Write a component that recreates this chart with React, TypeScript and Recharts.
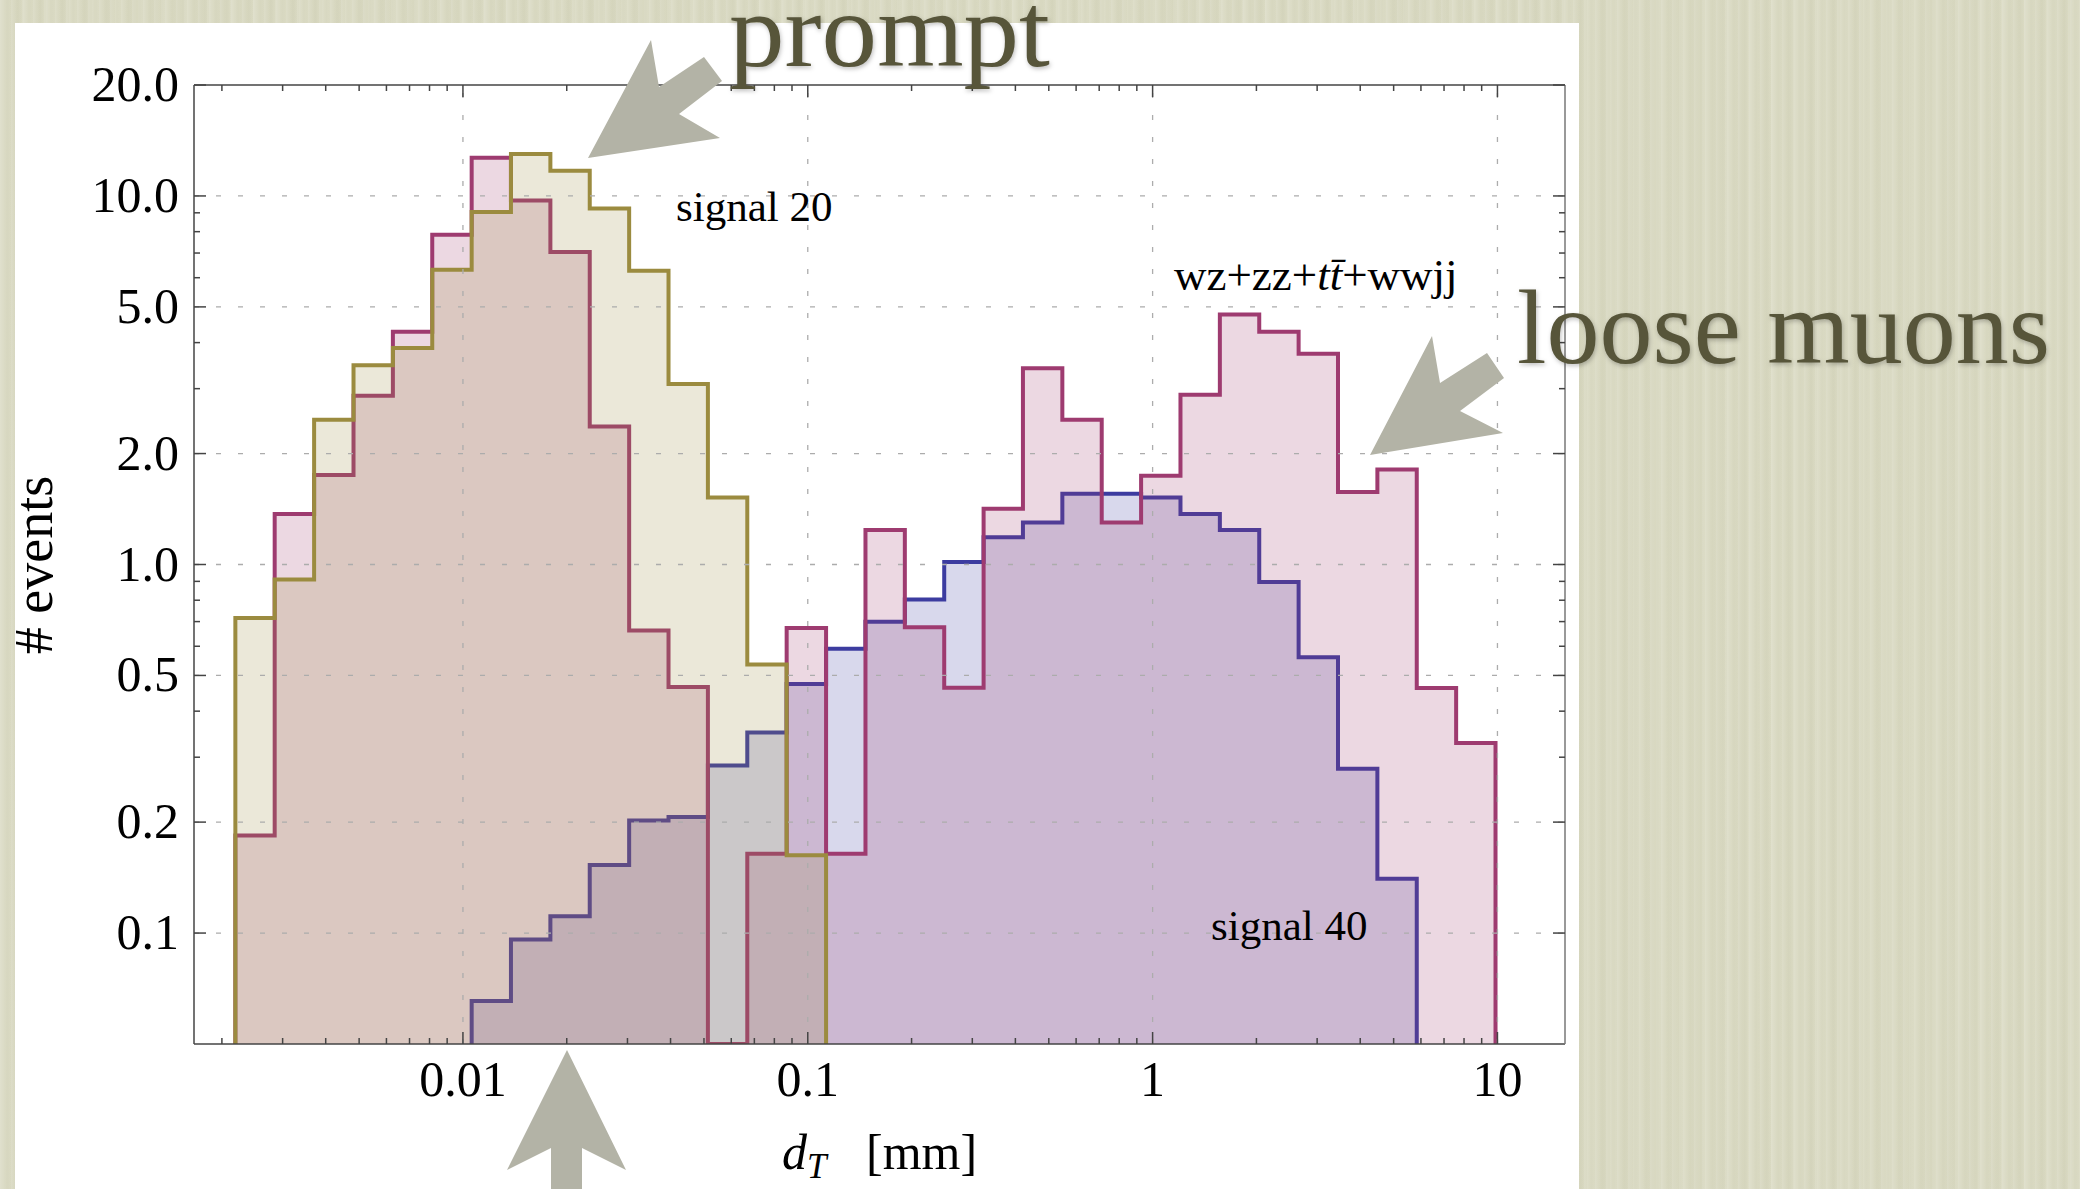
import React from "react";
import { ComposedChart, Area, Line, XAxis, YAxis, ReferenceLine } from "recharts";

// log-spaced bin edges of d_T [mm]
const BIN_EDGES = [
  0.002188, 0.002845, 0.003702, 0.004816, 0.006264, 0.008147, 0.0106, 0.01378,
  0.01793, 0.02332, 0.03034, 0.03946, 0.05133, 0.06677, 0.08685, 0.113, 0.147,
  0.1912, 0.2487, 0.3235, 0.4207, 0.5473, 0.7119, 0.926, 1.2045, 1.5668, 2.038,
  2.651, 3.4483, 4.4855, 5.8345, 7.5895, 9.872,
];

// # events per bin (null = series not drawn there, 0 = empty bin)
const SIGNAL_20 = [
  0.716, 0.91, 2.47, 3.47, 3.87, 6.31, 9.05, 13.0, 11.7, 9.25, 6.27, 3.09, 1.52, 0.535, 0.1625,
  null, null, null, null, null, null, null, null, null, null, null, null, null, null, null, null, null,
];
const BACKGROUND = [
  0.184, 1.37, 1.75, 2.87, 4.28, 7.85, 12.7, 9.72, 7.05, 2.37, 0.662, 0.465, 0, 0.164, 0.673, 0.164,
  1.24, 0.676, 0.463, 1.416, 3.41, 2.47, 1.3, 1.74, 2.89, 4.77, 4.28, 3.73, 1.574, 1.81, 0.462, 0.328,
];
const SIGNAL_40 = [
  null, null, null, null, null, null,
  0.0654, 0.096, 0.111, 0.153, 0.202, 0.2066, 0.285, 0.35, 0.474, 0.591, 0.699, 0.803, 1.015, 1.186,
  1.3, 1.556, 1.556, 1.52, 1.37, 1.24, 0.897, 0.56, 0.279, 0.1405,
  null, null,
];

const X_MIN = 0.00166;
const X_MAX = 15.7;
const Y_MIN = 0.05;
const Y_MAX = 20;

const X_LABEL_TICKS = [0.01, 0.1, 1, 10];
const X_LABELS = ["0.01", "0.1", "1", "10"];
const X_MINOR_TICKS = [
  0.002, 0.003, 0.004, 0.005, 0.006, 0.007, 0.008, 0.009,
  0.02, 0.03, 0.04, 0.05, 0.06, 0.07, 0.08, 0.09,
  0.2, 0.3, 0.4, 0.5, 0.6, 0.7, 0.8, 0.9,
  2, 3, 4, 5, 6, 7, 8, 9,
];
const Y_LABEL_TICKS = [0.1, 0.2, 0.5, 1, 2, 5, 10, 20];
const Y_LABELS = ["0.1", "0.2", "0.5", "1.0", "2.0", "5.0", "10.0", "20.0"];
const Y_MINOR_TICKS = [0.3, 0.4, 0.6, 0.7, 0.8, 0.9, 3, 4, 6, 7, 8, 9];
const Y_GRID = [0.1, 0.2, 0.5, 1, 2, 5, 10];

const X_ALL_TICKS = [...X_LABEL_TICKS, ...X_MINOR_TICKS].sort((a, b) => a - b);
const Y_ALL_TICKS = [...Y_LABEL_TICKS, ...Y_MINOR_TICKS].sort((a, b) => a - b);

const GOLD = "#9b8b3f";
const MAGENTA = "#9e3b70";
const BLUE = "#3c3ca0";
const AXIS = "#444444";
const FONT = '"Liberation Serif", "Times New Roman", serif';
const SLIDE_TEXT = "#57553a";
const ARROW = "#b3b3a6";

type Bins = (number | null)[];

// step outline rows: two rows per bin edge (value of bin before / after the edge)
const edgeValue = (bins: Bins, k: number, side: "before" | "after") => {
  const prev = k > 0 ? bins[k - 1] : null;
  const next = k < bins.length ? bins[k] : null;
  const own = side === "before" ? prev : next;
  const other = side === "before" ? next : prev;
  if (own == null) return other == null ? null : Y_MIN;
  return Math.max(own, Y_MIN);
};

const rows = BIN_EDGES.flatMap((edge, k) =>
  (["before", "after"] as const).map((side) => ({
    x: edge,
    s20: edgeValue(SIGNAL_20, k, side),
    bkg: edgeValue(BACKGROUND, k, side),
    s40: edgeValue(SIGNAL_40, k, side),
  }))
);

function BottomTick({ x, y, payload }: any) {
  const i = X_LABEL_TICKS.indexOf(payload.value);
  return (
    <g>
      <line x1={x} x2={x} y1={y} y2={y - (i >= 0 ? 12 : 6)} stroke={AXIS} strokeWidth={1.5} />
      {i >= 0 && (
        <text x={x} y={y + 52} textAnchor="middle" fontFamily={FONT} fontSize={50} fill="#000">
          {X_LABELS[i]}
        </text>
      )}
    </g>
  );
}

function TopTick({ x, y, payload }: any) {
  const major = X_LABEL_TICKS.includes(payload.value);
  return <line x1={x} x2={x} y1={y} y2={y + (major ? 12 : 6)} stroke={AXIS} strokeWidth={1.5} />;
}

function LeftTick({ x, y, payload }: any) {
  const i = Y_LABEL_TICKS.indexOf(payload.value);
  return (
    <g>
      <line x1={x} x2={x + (i >= 0 ? 12 : 6)} y1={y} y2={y} stroke={AXIS} strokeWidth={1.5} />
      {i >= 0 && (
        <text x={x - 15} y={y + 16} textAnchor="end" fontFamily={FONT} fontSize={50} fill="#000">
          {Y_LABELS[i]}
        </text>
      )}
    </g>
  );
}

function RightTick({ x, y, payload }: any) {
  const major = Y_LABEL_TICKS.includes(payload.value);
  return <line x1={x} x2={x - (major ? 12 : 6)} y1={y} y2={y} stroke={AXIS} strokeWidth={1.5} />;
}

export default function App() {
  return (
    <div
      style={{
        position: "fixed",
        left: 0,
        top: 0,
        width: 2080,
        height: 1189,
        overflow: "hidden",
        backgroundColor: "#dadac3",
        backgroundImage:
          "repeating-linear-gradient(90deg, rgba(255,255,255,0.10) 0px, rgba(255,255,255,0) 4px, rgba(150,150,110,0.05) 7px, rgba(255,255,255,0) 11px), repeating-linear-gradient(90deg, rgba(255,255,255,0.08) 0px, rgba(255,255,255,0) 9px, rgba(140,140,100,0.04) 17px, rgba(255,255,255,0) 23px)",
      }}
    >
      <div style={{ position: "absolute", left: 15, top: 23, width: 1564, height: 1166, background: "#ffffff" }}>
        <ComposedChart width={1564} height={1166} data={rows} margin={{ top: 52, right: 4, bottom: 45, left: 29 }}>
          <XAxis
            dataKey="x"
            type="number"
            scale="log"
            domain={[X_MIN, X_MAX]}
            allowDataOverflow
            ticks={X_ALL_TICKS}
            interval={0}
            tick={<BottomTick />}
            tickLine={false}
            tickSize={0}
            tickMargin={0}
            height={100}
            axisLine={{ stroke: AXIS, strokeWidth: 1.5 }}
          />
          <XAxis
            xAxisId="top"
            orientation="top"
            dataKey="x"
            type="number"
            scale="log"
            domain={[X_MIN, X_MAX]}
            allowDataOverflow
            ticks={X_ALL_TICKS}
            interval={0}
            tick={<TopTick />}
            tickLine={false}
            tickSize={0}
            tickMargin={0}
            height={10}
            axisLine={{ stroke: AXIS, strokeWidth: 1.5 }}
          />
          <YAxis
            type="number"
            scale="log"
            domain={[Y_MIN, Y_MAX]}
            allowDataOverflow
            ticks={Y_ALL_TICKS}
            interval={0}
            tick={<LeftTick />}
            tickLine={false}
            tickSize={0}
            tickMargin={0}
            width={150}
            axisLine={{ stroke: AXIS, strokeWidth: 1.5 }}
          />
          <YAxis
            yAxisId="right"
            orientation="right"
            type="number"
            scale="log"
            domain={[Y_MIN, Y_MAX]}
            allowDataOverflow
            ticks={Y_ALL_TICKS}
            interval={0}
            tick={<RightTick />}
            tickLine={false}
            tickSize={0}
            tickMargin={0}
            width={10}
            axisLine={{ stroke: "#777777", strokeWidth: 1.5 }}
          />

          {X_LABEL_TICKS.map((v) => (
            <ReferenceLine key={"gx" + v} x={v} stroke="#acacac" strokeWidth={1.3} strokeDasharray="5 17" />
          ))}
          {Y_GRID.map((v) => (
            <ReferenceLine key={"gy" + v} y={v} stroke="#acacac" strokeWidth={1.3} strokeDasharray="5 17" />
          ))}

          <Area
            dataKey="s40"
            type="linear"
            baseValue={Y_MIN}
            stroke={BLUE}
            strokeWidth={4}
            fill={BLUE}
            fillOpacity={0.2}
            dot={false}
            activeDot={false}
            isAnimationActive={false}
          />
          <Area
            dataKey="bkg"
            type="linear"
            baseValue={Y_MIN}
            stroke={MAGENTA}
            strokeWidth={4}
            fill={MAGENTA}
            fillOpacity={0.2}
            dot={false}
            activeDot={false}
            isAnimationActive={false}
          />
          <Area
            dataKey="s20"
            type="linear"
            baseValue={Y_MIN}
            stroke={GOLD}
            strokeWidth={4}
            fill={GOLD}
            fillOpacity={0.2}
            dot={false}
            activeDot={false}
            isAnimationActive={false}
          />
          {/* keeps the mirrored frame axes bound to the data */}
          <Line
            xAxisId="top"
            yAxisId="right"
            dataKey="bkg"
            stroke="none"
            dot={false}
            activeDot={false}
            legendType="none"
            isAnimationActive={false}
          />
        </ComposedChart>
      </div>

      <svg
        width={2080}
        height={1189}
        style={{ position: "absolute", left: 0, top: 0, pointerEvents: "none" }}
      >
        <text x={676} y={221} fontFamily={FONT} fontSize={43} fill="#000">signal 20</text>
        <text x={1174} y={290} fontFamily={FONT} fontSize={45} fill="#000">
          wz+zz+<tspan fontStyle="italic">t</tspan>
          <tspan fontStyle="italic">{"t\u0304"}</tspan>+wwjj
        </text>
        <text x={1211} y={940} fontFamily={FONT} fontSize={43} fill="#000">signal 40</text>

        <text x={782} y={1169} fontFamily={FONT} fontSize={50} fill="#000">
          <tspan fontStyle="italic">d</tspan>
          <tspan fontStyle="italic" fontSize={35} dy={9}>T</tspan>
          <tspan x={866} dy={-9}>[mm]</tspan>
        </text>
        <text
          x={52}
          y={565}
          transform="rotate(-90 52 565)"
          textAnchor="middle"
          fontFamily={FONT}
          fontSize={54}
          fill="#000"
        >
          # events
        </text>

        <polygon points="588,158 651,40 659,87 704,57 722,81 679,114 720,138" fill={ARROW} />
        <polygon points="1370,455 1432,336 1440,383 1487,353 1504,378 1460,411 1503,433" fill={ARROW} />
        <polygon points="567,1050 626,1170 582,1148 582,1189 551,1189 551,1148 507,1170" fill={ARROW} />

        <g style={{ filter: "drop-shadow(1px 2px 2px rgba(0,0,0,0.25))" }}>
          <text x={729} y={66} fontFamily={FONT} fontSize={106} textLength={321} lengthAdjust="spacingAndGlyphs" fill={SLIDE_TEXT}>
            prompt
          </text>
          <text x={1517} y={363} fontFamily={FONT} fontSize={106} fill={SLIDE_TEXT}>loose muons</text>
        </g>
      </svg>
    </div>
  );
}
